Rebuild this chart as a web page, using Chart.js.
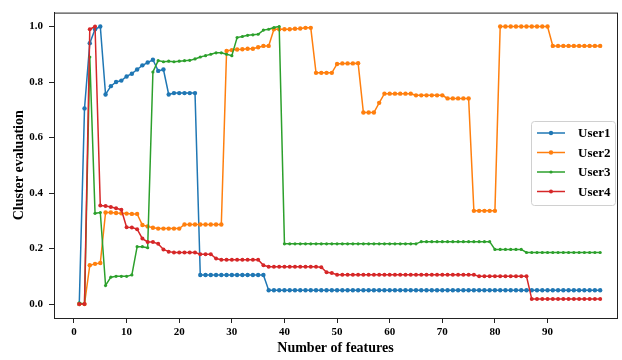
<!DOCTYPE html>
<html>
<head>
<meta charset="utf-8">
<title>Cluster evaluation</title>
<script src="https://cdn.jsdelivr.net/npm/chart.js"></script>
<style>
    body { margin: 0; background: #fff; }
    #wrap { width: 622px; height: 360px; }
</style>
</head>
<body>
<div id="wrap"><canvas id="clusterChart" width="622" height="360"></canvas></div>
<script>
const features = [
    1, 2, 3, 4, 5, 6, 7, 8, 9, 10, 11, 12, 13, 14, 15, 16, 17, 18, 19, 20,
    21, 22, 23, 24, 25, 26, 27, 28, 29, 30, 31, 32, 33, 34, 35, 36, 37, 38, 39, 40,
    41, 42, 43, 44, 45, 46, 47, 48, 49, 50, 51, 52, 53, 54, 55, 56, 57, 58, 59, 60,
    61, 62, 63, 64, 65, 66, 67, 68, 69, 70, 71, 72, 73, 74, 75, 76, 77, 78, 79, 80,
    81, 82, 83, 84, 85, 86, 87, 88, 89, 90, 91, 92, 93, 94, 95, 96, 97, 98, 99, 100
];

const user1 = [
    0.0, 0.705, 0.94, 0.99, 1.0, 0.755, 0.785, 0.80, 0.805, 0.82,
    0.83, 0.845, 0.86, 0.87, 0.88, 0.84, 0.845, 0.755, 0.76, 0.76,
    0.76, 0.76, 0.76, 0.105, 0.105, 0.105, 0.105, 0.105, 0.105, 0.105,
    0.105, 0.105, 0.105, 0.105, 0.105, 0.105, 0.05, 0.05, 0.05, 0.05,
    0.05, 0.05, 0.05, 0.05, 0.05, 0.05, 0.05, 0.05, 0.05, 0.05,
    0.05, 0.05, 0.05, 0.05, 0.05, 0.05, 0.05, 0.05, 0.05, 0.05,
    0.05, 0.05, 0.05, 0.05, 0.05, 0.05, 0.05, 0.05, 0.05, 0.05,
    0.05, 0.05, 0.05, 0.05, 0.05, 0.05, 0.05, 0.05, 0.05, 0.05,
    0.05, 0.05, 0.05, 0.05, 0.05, 0.05, 0.05, 0.05, 0.05, 0.05,
    0.05, 0.05, 0.05, 0.05, 0.05, 0.05, 0.05, 0.05, 0.05, 0.05
];

const user2 = [
    0.0, 0.0, 0.14, 0.145, 0.148, 0.33, 0.33, 0.328, 0.327, 0.326,
    0.325, 0.325, 0.285, 0.28, 0.275, 0.272, 0.272, 0.272, 0.272, 0.272,
    0.287, 0.287, 0.287, 0.287, 0.287, 0.287, 0.287, 0.287, 0.912, 0.915,
    0.917, 0.918, 0.92, 0.92, 0.925, 0.93, 0.93, 0.99, 0.99, 0.99,
    0.99, 0.992, 0.993, 0.995, 0.995, 0.833, 0.833, 0.833, 0.833, 0.865,
    0.867, 0.867, 0.867, 0.868, 0.69, 0.69, 0.69, 0.725, 0.758, 0.758,
    0.758, 0.758, 0.758, 0.758, 0.752, 0.752, 0.752, 0.752, 0.752, 0.752,
    0.741, 0.741, 0.741, 0.741, 0.741, 0.336, 0.336, 0.336, 0.336, 0.336,
    1.0, 1.0, 1.0, 1.0, 1.0, 1.0, 1.0, 1.0, 1.0, 1.0,
    0.93, 0.93, 0.93, 0.93, 0.93, 0.93, 0.93, 0.93, 0.93, 0.93
];

const user3 = [
    0.005, 0.0, 0.89, 0.327, 0.33, 0.067, 0.097, 0.10, 0.10, 0.10,
    0.105, 0.207, 0.207, 0.203, 0.836, 0.877, 0.873, 0.875, 0.873, 0.875,
    0.877, 0.878, 0.883, 0.89, 0.895, 0.90, 0.905, 0.905, 0.90, 0.895,
    0.96, 0.964, 0.968, 0.97, 0.972, 0.987, 0.99, 0.996, 1.0, 0.217,
    0.217, 0.217, 0.217, 0.217, 0.217, 0.217, 0.217, 0.217, 0.217, 0.217,
    0.217, 0.217, 0.217, 0.217, 0.217, 0.217, 0.217, 0.217, 0.217, 0.217,
    0.217, 0.217, 0.217, 0.217, 0.217, 0.225, 0.225, 0.225, 0.225, 0.225,
    0.225, 0.225, 0.225, 0.225, 0.225, 0.225, 0.225, 0.225, 0.225, 0.197,
    0.197, 0.197, 0.197, 0.197, 0.197, 0.186, 0.186, 0.186, 0.186, 0.186,
    0.186, 0.186, 0.186, 0.186, 0.186, 0.186, 0.186, 0.186, 0.186, 0.186
];

const user4 = [
    0.0, 0.0, 0.99, 1.0, 0.355, 0.353, 0.35, 0.345, 0.34, 0.277,
    0.276, 0.27, 0.236, 0.224, 0.224, 0.217, 0.197, 0.189, 0.186, 0.186,
    0.186, 0.186, 0.186, 0.18, 0.18, 0.18, 0.164, 0.16, 0.16, 0.16,
    0.16, 0.16, 0.16, 0.16, 0.16, 0.14, 0.135, 0.135, 0.135, 0.135,
    0.135, 0.135, 0.135, 0.135, 0.135, 0.135, 0.133, 0.115, 0.112, 0.106,
    0.106, 0.106, 0.106, 0.106, 0.106, 0.106, 0.106, 0.106, 0.106, 0.106,
    0.106, 0.106, 0.106, 0.106, 0.106, 0.106, 0.106, 0.106, 0.106, 0.106,
    0.106, 0.106, 0.106, 0.106, 0.106, 0.106, 0.10, 0.10, 0.10, 0.10,
    0.10, 0.10, 0.10, 0.10, 0.10, 0.10, 0.018, 0.018, 0.018, 0.018,
    0.018, 0.018, 0.018, 0.018, 0.018, 0.018, 0.018, 0.018, 0.018, 0.018
];

const seriesNames = ['User1', 'User2', 'User3', 'User4'];
const xTicks = [0, 10, 20, 30, 40, 50, 60, 70, 80, 90];
const yTicks = [0.0, 0.2, 0.4, 0.6, 0.8, 1.0];

const colors = ['#1f77b4', '#ff7f0e', '#2ca02c', '#d62728'];
const pointSizes = [2.2, 2.2, 1.6, 2];
const serif = "'Liberation Serif', 'Times New Roman', serif";

function makeDataset(i, values) {
    return {
        label: seriesNames[i],
        data: features.map((f, k) => ({ x: f, y: values[k] })),
        borderColor: colors[i],
        backgroundColor: colors[i],
        borderWidth: 1.5,
        pointRadius: pointSizes[i],
        pointBorderWidth: 0,
        pointBackgroundColor: colors[i],
        order: 4 - i   // later series on top, like matplotlib
    };
}

// full box round the axes (top and right spines)
const frame = {
    id: 'frame',
    afterDatasetsDraw(chart) {
        const { ctx, chartArea: a } = chart;
        ctx.save();
        ctx.strokeStyle = '#222';
        ctx.lineWidth = 1;
        ctx.strokeRect(a.left + 0.5, a.top + 0.5, a.right - a.left, a.bottom - a.top);
        ctx.restore();
    }
};

// legend box inside the plot, right side
const boxLegend = {
    id: 'boxLegend',
    afterDraw(chart) {
        const ctx = chart.ctx;
        const x0 = 531, y0 = 121, w = 84, h = 84;
        ctx.save();
        ctx.fillStyle = 'rgba(255,255,255,0.85)';
        ctx.strokeStyle = '#d0d0d0';
        ctx.lineWidth = 1;
        ctx.beginPath();
        ctx.roundRect(x0 + 0.5, y0 + 0.5, w, h, 3);
        ctx.fill();
        ctx.stroke();
        chart.data.datasets.forEach((ds, i) => {
            const y = 133 + i * 19.5;
            ctx.strokeStyle = ds.borderColor;
            ctx.lineWidth = 1.5;
            ctx.beginPath();
            ctx.moveTo(537, y);
            ctx.lineTo(565, y);
            ctx.stroke();
            ctx.fillStyle = ds.borderColor;
            ctx.beginPath();
            ctx.arc(551, y, ds.pointRadius, 0, Math.PI * 2);
            ctx.fill();
            ctx.fillStyle = '#000';
            ctx.font = 'bold 13px ' + serif;
            ctx.textAlign = 'left';
            ctx.textBaseline = 'middle';
            ctx.fillText(ds.label, 578, y + 1);
        });
        ctx.restore();
    }
};

const tickFont = { family: serif, size: 11, weight: 'bold' };

new Chart(document.getElementById('clusterChart'), {
    type: 'line',
    data: {
        datasets: [
            makeDataset(0, user1),
            makeDataset(1, user2),
            makeDataset(2, user3),
            makeDataset(3, user4)
        ]
    },
    options: {
        responsive: false,
        animation: false,
        layout: { padding: { top: 8, right: 5, left: 0, bottom: 0 } },
        plugins: {
            legend: { display: false },
            tooltip: { enabled: false }
        },
        scales: {
            x: {
                type: 'linear',
                min: -3.8,
                max: 103.2,
                afterBuildTicks: (scale) => { scale.ticks = xTicks.map(v => ({ value: v })); },
                afterFit: (scale) => { scale.height = 42; },
                ticks: { color: '#000', font: tickFont, padding: 3, maxRotation: 0,
                         callback: (v) => String(v) },
                grid: { drawOnChartArea: false, drawTicks: true, tickLength: 5, color: '#222' },
                border: { display: true, color: '#222', width: 1 },
                title: { display: true, text: 'Number of features', color: '#000',
                         font: { family: serif, size: 14, weight: 'bold' },
                         padding: { top: 0, bottom: 3 } }
            },
            y: {
                min: -0.05,
                max: 1.05,
                afterBuildTicks: (scale) => { scale.ticks = yTicks.map(v => ({ value: v })); },
                afterFit: (scale) => { scale.width = 54; },
                ticks: { color: '#000', font: tickFont, padding: 6,
                         callback: (v) => Number(v).toFixed(1) },
                grid: { drawOnChartArea: false, drawTicks: true, tickLength: 5, color: '#222' },
                border: { display: true, color: '#222', width: 1 },
                title: { display: true, text: 'Cluster evaluation', color: '#000',
                         font: { family: serif, size: 14, weight: 'bold' },
                         padding: { top: 11, bottom: 0 } }
            }
        }
    },
    plugins: [frame, boxLegend]
});
</script>
</body>
</html>
